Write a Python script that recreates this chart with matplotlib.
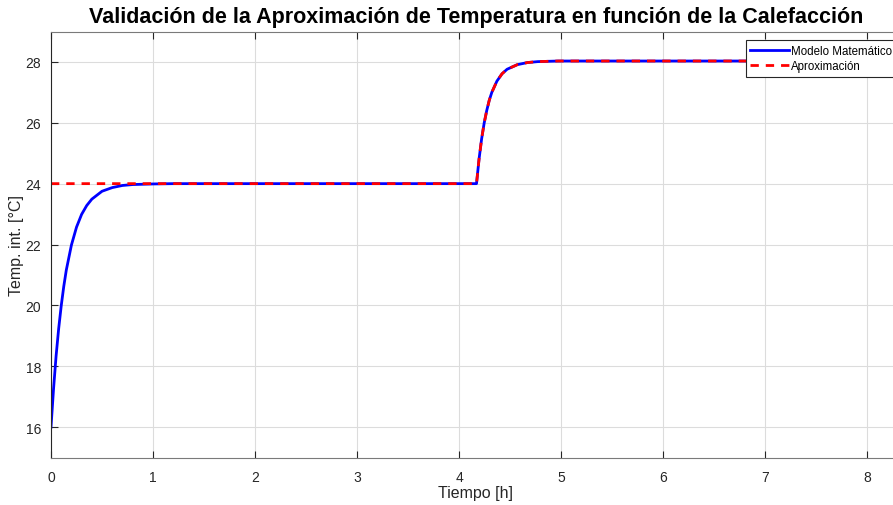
import matplotlib.pyplot as plt

plt.rcParams['font.family'] = ['Liberation Sans', 'DejaVu Sans']

# Modelo matemático
t_modelo = [0, 0.025, 0.05, 0.075, 0.1, 0.125, 0.15, 0.2, 0.25, 0.3, 0.35, 0.4, 0.5, 0.6,
            0.7, 0.8, 1.0, 1.2, 4.17,
            4.195, 4.22, 4.245, 4.27, 4.295, 4.32, 4.37, 4.42, 4.47, 4.57, 4.67, 4.77,
            4.97, 5.2, 8.33]
T_modelo = [16.0, 17.26, 18.34, 19.23, 19.98, 20.62, 21.16, 21.98, 22.57, 22.99, 23.28, 23.49,
            23.75, 23.87, 23.94, 23.97, 23.99, 24.0, 24.0,
            24.81, 25.47, 25.99, 26.40, 26.74, 27.0, 27.37, 27.61, 27.76, 27.91, 27.98, 28.01,
            28.03, 28.03, 28.03]

# Aproximación
t_aprox = [0, 4.17, 4.195, 4.22, 4.245, 4.27, 4.295, 4.32, 4.37, 4.42, 4.47, 4.57, 4.67,
           4.77, 4.97, 5.2, 8.33]
T_aprox = [24.0, 24.0, 24.81, 25.47, 25.99, 26.40, 26.74, 27.0, 27.37, 27.61, 27.76, 27.91,
           27.98, 28.01, 28.03, 28.03, 28.03]

fig = plt.figure(figsize=(8.93, 5.06), dpi=100)
ax = fig.add_axes([51 / 893, 1 - 458.5 / 506, 850 / 893, 426 / 506])

ax.plot(t_modelo, T_modelo, color='#0000ff', linewidth=2, label='Modelo Matemático')
ax.plot(t_aprox, T_aprox, color='#ff0000', linewidth=2, linestyle=(0, (3, 2.5)),
        label='Aproximación')

ax.set_xlim(0, 8.33)
ax.set_ylim(15, 29)
ax.set_xticks(range(0, 9))
ax.set_yticks(range(16, 29, 2))
ax.grid(True, color='#dcdcdc', linewidth=0.8)
ax.tick_params(direction='in', top=True, right=True, labelsize=10, colors='#262626',
               length=5)
ax.tick_params(axis='x', pad=9)
ax.tick_params(axis='y', pad=7)
for side in ['top', 'bottom', 'right']:
    ax.spines[side].set_color('#7a7a7a')
ax.spines['left'].set_color('#262626')

ax.set_xlabel('Tiempo [h]', fontsize=11.5, color='#262626', labelpad=1)
ax.set_ylabel('Temp. int. [°C]', fontsize=11.5, color='#262626', labelpad=1)
ax.set_title('Validación de la Aproximación de Temperatura en función de la Calefacción',
             fontsize=15.5, fontweight='bold', pad=7)

leg = ax.legend(loc='upper right', bbox_to_anchor=(897 / 893, 1 - 41 / 506),
                bbox_transform=fig.transFigure, borderaxespad=0, fontsize=8.3,
                fancybox=False, framealpha=1, handlelength=3.3, handletextpad=0.25,
                borderpad=0.4, labelspacing=0.3)
leg.get_frame().set_edgecolor('#262626')
leg.get_frame().set_linewidth(0.8)

fig.savefig('out.png', dpi=100)
